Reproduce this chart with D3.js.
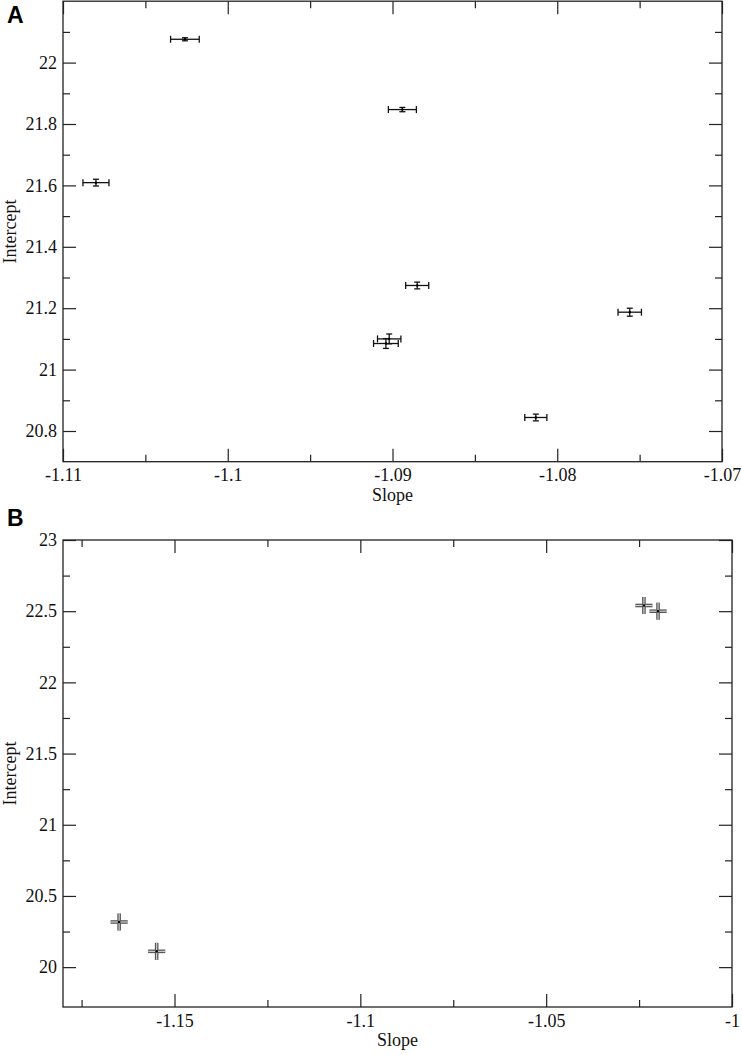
<!DOCTYPE html>
<html>
<head>
<meta charset="utf-8">
<script src="https://cdn.jsdelivr.net/npm/d3@7"></script>
<style>
  body { margin: 0; background: #fff; }
  svg { display: block; }
  .serif { font-family: Liberation Serif, Times New Roman, Times, DejaVu Serif, serif; }
</style>
</head>
<body>
<svg id="chart" width="742" height="1055"></svg>
<script>
// Panel A data
const slopeA     = [-1.1026, -1.1080, -1.0894, -1.0885, -1.0756, -1.0902, -1.0904, -1.0813];
const interceptA = [22.076, 21.609, 21.847, 21.274, 21.187, 21.100, 21.085, 20.844];
const slopeErrA  = [0.00087, 0.00079, 0.00085, 0.0007, 0.00071, 0.00071, 0.00075, 0.00067];
const interErrA  = [0.005, 0.011, 0.007, 0.011, 0.013, 0.016, 0.016, 0.011];
const xTicksA = [-1.11, -1.1, -1.09, -1.08, -1.07];
const xMinorA = [-1.105, -1.095, -1.085, -1.075];
const yTicksA = [20.8, 21, 21.2, 21.4, 21.6, 21.8, 22];
const yMinorA = [20.9, 21.1, 21.3, 21.5, 21.7, 21.9, 22.1];

// Panel B data
const slopeB     = [-1.1649, -1.1548, -1.0237, -1.0199];
const interceptB = [20.317, 20.111, 22.54, 22.50];
const slopeErrB  = [0.0023, 0.0023, 0.0023, 0.0023];
const interErrB  = [0.06, 0.06, 0.06, 0.06];
const xTicksB = [-1.15, -1.1, -1.05, -1];
const xMinorB = [-1.175, -1.125, -1.075, -1.025];
const yTicksB = [20, 20.5, 21, 21.5, 22, 22.5, 23];
const yMinorB = [20.25, 20.75, 21.25, 21.75, 22.25, 22.75];

const SANS = 'Liberation Sans, Arial, Helvetica, sans-serif';
const AXIS_COLOR = '#222';

const svg = d3.select('#chart');
svg.append('rect').attr('width', 742).attr('height', 1055).attr('fill', '#fff');

const fmt = d => String(+d.toFixed(3));

const drawAxes = (g, x, y, t) => {
  const [x0, x1] = x.range();
  const [y0, y1] = y.range();
  const sides = [
    [d3.axisBottom(x), `translate(0,${y0})`, t.xMajor, t.xMinor, true, 7],
    [d3.axisTop(x),    `translate(0,${y1})`, t.xMajor, t.xMinor, false, 6],
    [d3.axisLeft(y),   `translate(${x0},0)`, t.yMajor, t.yMinor, true, 6],
    [d3.axisRight(y),  `translate(${x1},0)`, t.yMajor, t.yMinor, false, 6]
  ];
  sides.forEach(([axis, tr, major, minor, labels, pad]) => {
    g.append('g').attr('transform', tr)
      .call(axis.tickValues(major).tickSize(-13).tickPadding(pad)
        .tickFormat(labels ? fmt : ''))
      .attr('font-family', null).attr('font-size', null)
      .call(a => a.select('.domain').remove())
      .call(a => a.selectAll('line').attr('stroke', AXIS_COLOR).attr('stroke-width', 1.2))
      .call(a => a.selectAll('text').attr('class', 'serif')
        .style('font-size', '18px').attr('fill', '#111'));
    g.append('g').attr('transform', tr)
      .call(axis.tickValues(minor).tickSize(-7).tickFormat(''))
      .call(a => a.select('.domain').remove())
      .call(a => a.selectAll('line').attr('stroke', AXIS_COLOR).attr('stroke-width', 1.2));
  });
  g.append('rect')
    .attr('x', x0).attr('y', y1)
    .attr('width', x1 - x0).attr('height', y0 - y1)
    .attr('fill', 'none').attr('stroke', AXIS_COLOR).attr('stroke-width', 1.3);
};

const drawTitles = (g, x, y, label) => {
  const [x0, x1] = x.range();
  const [y0, y1] = y.range();
  g.append('text').attr('class', 'serif')
    .style('font-size', '18px').attr('fill', '#111')
    .attr('x', (x0 + x1) / 2).attr('y', y0 + 39)
    .attr('text-anchor', 'middle').text('Slope');
  g.append('text').attr('class', 'serif')
    .style('font-size', '18px').attr('fill', '#111')
    .attr('transform', `translate(16,${(y0 + y1) / 2}) rotate(-90)`)
    .attr('text-anchor', 'middle').text('Intercept');
  g.append('text')
    .style('font-family', SANS).style('font-size', '23px').style('font-weight', 'bold')
    .attr('x', 7).attr('y', label.y).text(label.text);
};

// ---- Panel A
const xA = d3.scaleLinear().domain([-1.11, -1.07]).range([63, 722]);
const yA = d3.scaleLinear().domain([20.7, 22.2]).range([461.7, 1.2]);
const gA = svg.append('g');
drawAxes(gA, xA, yA, { xMajor: xTicksA, xMinor: xMinorA, yMajor: yTicksA, yMinor: yMinorA });
drawTitles(gA, xA, yA, { text: 'A', y: 23 });

const ptsA = slopeA.map((s, i) => ({ s, c: interceptA[i], se: slopeErrA[i], ce: interErrA[i] }));
const barsA = gA.append('g').attr('stroke', '#111').attr('stroke-width', 1.3).attr('fill', 'none');
ptsA.forEach(d => {
  const cx = xA(d.s), cy = yA(d.c);
  const xl = xA(d.s - d.se), xr = xA(d.s + d.se);
  const yt = yA(d.c + d.ce), yb = yA(d.c - d.ce);
  const g = barsA.append('g');
  g.append('line').attr('x1', xl).attr('x2', xr).attr('y1', cy).attr('y2', cy);
  g.append('line').attr('x1', xl).attr('x2', xl).attr('y1', cy - 3.5).attr('y2', cy + 3.5);
  g.append('line').attr('x1', xr).attr('x2', xr).attr('y1', cy - 3.5).attr('y2', cy + 3.5);
  g.append('line').attr('x1', cx).attr('x2', cx).attr('y1', yt).attr('y2', yb);
  g.append('line').attr('x1', cx - 3).attr('x2', cx + 3).attr('y1', yt).attr('y2', yt);
  g.append('line').attr('x1', cx - 3).attr('x2', cx + 3).attr('y1', yb).attr('y2', yb);
  g.append('circle').attr('cx', cx).attr('cy', cy).attr('r', 1.2).attr('fill', '#000').attr('stroke', 'none');
});

// ---- Panel B
const xB = d3.scaleLinear().domain([-1.18, -1.0]).range([63, 732]);
const yB = d3.scaleLinear().domain([19.72, 23]).range([1007, 540]);
const gB = svg.append('g');
drawAxes(gB, xB, yB, { xMajor: xTicksB, xMinor: xMinorB, yMajor: yTicksB, yMinor: yMinorB });
drawTitles(gB, xB, yB, { text: 'B', y: 526 });

const ptsB = slopeB.map((s, i) => ({ s, c: interceptB[i], se: slopeErrB[i], ce: interErrB[i] }));
const barsB = gB.append('g').attr('fill', 'none');
ptsB.forEach(d => {
  const cx = xB(d.s), cy = yB(d.c);
  const xl = xB(d.s - d.se), xr = xB(d.s + d.se);
  const yt = yB(d.c + d.ce), yb = yB(d.c - d.ce);
  const g = barsB.append('g');
  [[3.6, '#555'], [1.1, '#d8d8d8']].forEach(([w, col]) => {
    g.append('line').attr('x1', xl).attr('x2', xr).attr('y1', cy).attr('y2', cy)
      .attr('stroke', col).attr('stroke-width', w);
    g.append('line').attr('x1', cx).attr('x2', cx).attr('y1', yt).attr('y2', yb)
      .attr('stroke', col).attr('stroke-width', w);
  });
  g.append('circle').attr('cx', cx).attr('cy', cy).attr('r', 1.3).attr('fill', '#000');
});
</script>
</body>
</html>
